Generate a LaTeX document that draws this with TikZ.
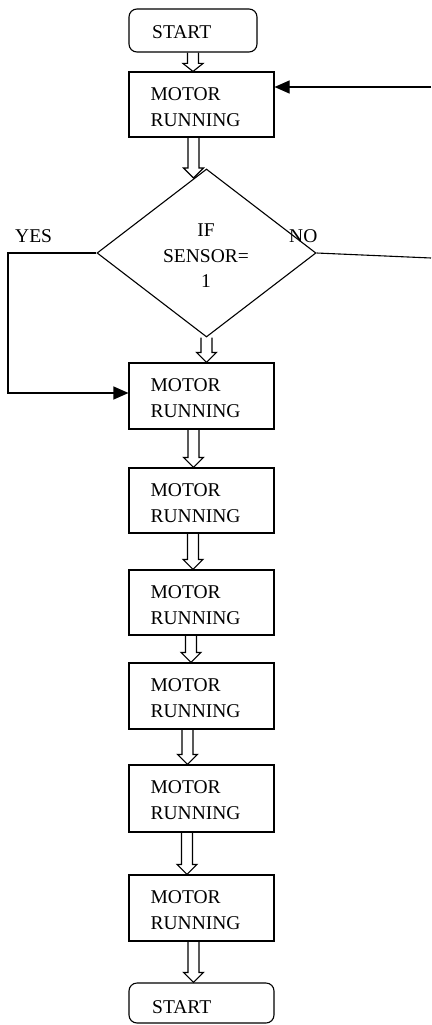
\documentclass[tikz,border=0pt]{standalone}
\usepackage{fontspec}
\setmainfont{Liberation Serif}
\usetikzlibrary{shapes.geometric,arrows.meta,calc}
\tikzset{
  lw/.style={line width=1.1pt},
  box/.style={draw,lw,minimum width=145pt,inner sep=0pt},
  rbox/.style={draw,lw,rounded corners=8pt,inner sep=0pt},
  dia/.style={draw,lw,diamond,inner sep=0pt,minimum width=219pt,minimum height=168pt},
  txt/.style={inner sep=0pt,align=left,font=\fontsize{19.5}{25.5}\selectfont},
  dtxt/.style={inner sep=0pt,align=center,font=\fontsize{19.5}{25.5}\selectfont},
  blk/.style={draw,lw,line join=miter},
  conn/.style={draw,lw},
  arr/.style={draw,lw,-{Triangle[length=15pt,width=13pt]}},
}
\newcommand\blockarrow[4]{% #1 x centre, #2 from, #3 to, #4 head length
  \draw[blk] let \p1=(#2), \p2=(#3) in
    (#1pt-5.5pt,\y1) -- (#1pt-5.5pt,\y2+#4pt) -- (#1pt-10pt,\y2+#4pt) -- (#1pt,\y2)
    -- (#1pt+10pt,\y2+#4pt) -- (#1pt+5.5pt,\y2+#4pt) -- (#1pt+5.5pt,\y1);}
\begin{document}
\begin{tikzpicture}[x=1pt,y=-1pt]
\useasboundingbox (0,0) rectangle (431,1025);
% start
\node[rbox,minimum width=128pt,minimum height=43pt] (s) at (193,30.5) {};
\node[txt,anchor=base west] (st) at (152,39) {START};
% boxes
\node[box,minimum height=65pt] (b1) at (201.5,104.5) {};
\node[box,minimum height=66pt] (b2) at (201.5,396) {};
\node[box,minimum height=65pt] (b3) at (201.5,500.5) {};
\node[box,minimum height=65pt] (b4) at (201.5,602.5) {};
\node[box,minimum height=66pt] (b5) at (201.5,696) {};
\node[box,minimum height=67pt] (b6) at (201.5,798.5) {};
\node[box,minimum height=66pt] (b7) at (201.5,908) {};
\foreach \b in {b1,b2,b3,b4,b5,b6,b7}{
  \node[txt,anchor=north west] (t\b) at ([shift={(22pt,-16.3pt)}]\b.north west) {MOTOR\\RUNNING};
}
% end
\node[rbox,minimum width=145pt,minimum height=40pt] (e) at (201.5,1003) {};
\node[txt,anchor=base west] (et) at (152,1013) {START};
% diamond
\node[dia] (d) at (206.5,253) {};
\node[dtxt,anchor=north] (dt) at (206,224) {IF\\SENSOR=\\1};
\node[txt,anchor=base west] (yes) at (15,242) {YES};
\node[txt,anchor=base west] (no) at (289,242) {NO};
% coordinates
\coordinate (dtip) at (193.5,178);
\coordinate (r1) at (431,87);
\coordinate (r2) at (431,258);
\coordinate (y1) at (8,253);
\coordinate (y2) at (8,393);
% block arrows
\blockarrow{193}{s.south}{b1.north}{8}
\blockarrow{193.5}{b1.south}{dtip}{10}
\blockarrow{206.5}{d.south}{b2.north}{10}
\blockarrow{193.5}{b2.south}{b3.north}{10}
\blockarrow{193}{b3.south}{b4.north}{10}
\blockarrow{191}{b4.south}{b5.north}{10}
\blockarrow{187.5}{b5.south}{b6.north}{10}
\blockarrow{187}{b6.south}{b7.north}{10}
\blockarrow{193.5}{b7.south}{e.north}{10}
% connectors
\draw[arr] (r1) -- (r1 -| b1.east);
\draw[conn] (d.east) -- (r2);
\draw[arr] (d.west) -- (y1) -- (y2) -- (y2 -| b2.west);
\end{tikzpicture}
\end{document}
